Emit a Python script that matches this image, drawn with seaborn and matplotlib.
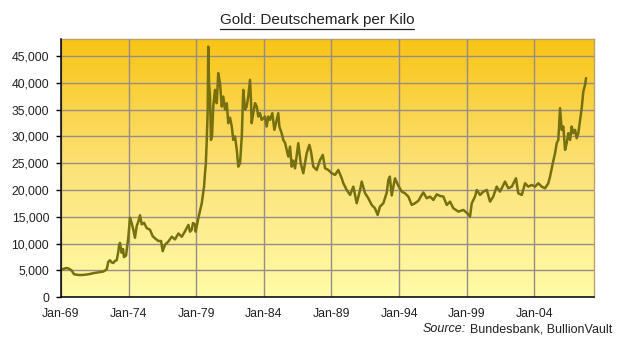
import numpy as np
import pandas as pd
import matplotlib
matplotlib.use("Agg")
import matplotlib.pyplot as plt
from matplotlib.colors import LinearSegmentedColormap
from matplotlib.lines import Line2D
import seaborn as sns

# ---- data (decimal year, DM per kilo) ----
years = [
    1969.00, 1969.17, 1969.37, 1969.54, 1969.79, 1969.96, 1970.28, 1970.55, 1970.90,
    1971.14, 1971.39, 1971.66, 1971.88, 1972.13, 1972.38, 1972.50, 1972.62, 1972.75,
    1972.87, 1972.99, 1973.12, 1973.24, 1973.29, 1973.36, 1973.49, 1973.59, 1973.66,
    1973.81, 1973.98, 1974.10, 1974.23, 1974.35, 1974.47, 1974.60, 1974.72, 1974.84,
    1974.97, 1975.14, 1975.34, 1975.58, 1975.78, 1975.95, 1976.20, 1976.40, 1976.52,
    1976.69, 1976.94, 1977.19, 1977.43, 1977.68, 1977.93, 1978.17, 1978.42, 1978.54,
    1978.67, 1978.76, 1978.91, 1978.96, 1979.16, 1979.41, 1979.58, 1979.65, 1979.71,
    1979.78, 1979.85, 1979.89, 1979.95, 1980.02, 1980.09, 1980.17, 1980.26, 1980.39,
    1980.52, 1980.63, 1980.76, 1980.89, 1981.00, 1981.13, 1981.26, 1981.37, 1981.50,
    1981.63, 1981.74, 1981.87, 1982.00, 1982.11, 1982.24, 1982.37, 1982.48, 1982.61,
    1982.73, 1982.85, 1982.98, 1983.05, 1983.10, 1983.22, 1983.35, 1983.48, 1983.59,
    1983.72, 1983.84, 1984.09, 1984.21, 1984.33, 1984.46, 1984.63, 1984.78, 1984.95,
    1985.07, 1985.15, 1985.32, 1985.44, 1985.57, 1985.69, 1985.81, 1985.94, 1986.06,
    1986.18, 1986.31, 1986.55, 1986.73, 1986.92, 1987.17, 1987.37, 1987.49, 1987.66,
    1987.91, 1988.16, 1988.36, 1988.53, 1988.77, 1989.02, 1989.27, 1989.51, 1989.76,
    1989.88, 1990.13, 1990.38, 1990.62, 1990.87, 1991.12, 1991.24, 1991.49, 1991.73,
    1991.98, 1992.22, 1992.42, 1992.59, 1992.84, 1993.09, 1993.21, 1993.32, 1993.46,
    1993.70, 1993.95, 1994.20, 1994.44, 1994.69, 1994.94, 1995.18, 1995.43, 1995.68,
    1995.80, 1996.05, 1996.29, 1996.54, 1996.79, 1997.03, 1997.28, 1997.53, 1997.77,
    1998.02, 1998.39, 1998.76, 1999.05, 1999.25, 1999.38, 1999.62, 1999.75, 1999.99,
    2000.24, 2000.49, 2000.73, 2000.97, 2001.22, 2001.47, 2001.84, 2002.08, 2002.34,
    2002.65, 2002.82, 2003.08, 2003.32, 2003.56, 2003.81, 2004.06, 2004.30, 2004.55,
    2004.80, 2005.04, 2005.17, 2005.37, 2005.54, 2005.66, 2005.78, 2005.91, 2006.03,
    2006.15, 2006.28, 2006.40, 2006.52, 2006.65, 2006.77, 2006.89, 2007.02, 2007.14,
    2007.26, 2007.39, 2007.51, 2007.63, 2007.76, 2007.83,
]
dm_per_kilo = [
    5250, 5270, 5450, 5400, 5000, 4300, 4170, 4150, 4250,
    4350, 4500, 4600, 4700, 4800, 5200, 6640, 6900, 6500,
    6400, 6800, 6900, 8500, 9600, 10150, 8300, 9000, 7500,
    7800, 11200, 14850, 13800, 12600, 11100, 13300, 14100, 15300,
    13600, 13900, 12900, 12600, 11400, 11000, 10500, 10500, 8600,
    9800, 10400, 11300, 10800, 11900, 11300, 12300, 13500, 12240,
    12600, 13860, 13600, 12240, 14800, 17540, 20640, 23140, 24800,
    29350, 35000, 46760, 39930, 37430, 29350, 30000, 35570, 38680,
    36200, 41800, 39930, 35570, 37430, 35000, 36200, 32470, 33500,
    31850, 29350, 30000, 27490, 24370, 24990, 29970, 38680, 35000,
    35570, 37430, 40550, 36800, 32470, 34330, 36200, 35570, 33710,
    34330, 33090, 33710, 31850, 33710, 33090, 34330, 31230, 33090,
    34330, 31850, 30600, 29350, 28800, 27500, 26240, 28100, 24370,
    25500, 24060, 28740, 25000, 23140, 26870, 28420, 27180, 24370,
    23750, 25620, 26560, 24060, 23750, 23140, 22830, 23750, 22200,
    21270, 20020, 19090, 20640, 17540, 20020, 21580, 19400, 18470,
    17220, 16600, 15360, 16910, 17540, 19500, 21890, 22510, 19000,
    22200, 20800, 19710, 19400, 18780, 17220, 17540, 18000, 19090,
    19550, 18470, 18780, 18160, 19200, 18900, 18780, 17220, 17840,
    16600, 15980, 16290, 15670, 15040, 17540, 18780, 20020, 19090,
    19710, 20020, 17840, 18780, 20640, 19710, 21580, 20330, 20640,
    22200, 19400, 19090, 21270, 20640, 20950, 20640, 21270, 20640,
    20330, 21270, 22510, 25000, 26870, 28740, 29350, 35270, 31230,
    31850, 27490, 28740, 30600, 29350, 31850, 30600, 31230, 29660,
    30600, 33090, 35270, 38370, 39620, 40870,
]
tick_years = [1969, 1974, 1979, 1984, 1989, 1994, 1999, 2004]
tick_labels = ["Jan-69", "Jan-74", "Jan-79", "Jan-84", "Jan-89", "Jan-94", "Jan-99", "Jan-04"]
y_ticks = list(range(0, 45001, 5000))

title = "Gold: Deutschemark per Kilo"
source_label = "Source:"
source_text = "Bundesbank, BullionVault"

df = pd.DataFrame({"year": years, "value": dm_per_kilo})

sns.set_theme(style="white")
plt.rcParams["font.family"] = ["Liberation Sans", "DejaVu Sans"]

fig = plt.figure(figsize=(6.2, 3.52), dpi=100)
fig.patch.set_facecolor("white")
ax = fig.add_axes([61 / 620, 1 - 297.3 / 352, (594 - 61) / 620, (297.3 - 39) / 352])

# gradient background
cmap = LinearSegmentedColormap.from_list("gold", ["#FFFBA8", "#FCE277", "#F9C414"])
grad = np.linspace(0, 1, 256).reshape(-1, 1)
ax.imshow(grad, cmap=cmap, origin="lower", extent=[0, 1, 0, 1], aspect="auto",
          transform=ax.transAxes, zorder=0)

sns.lineplot(data=df, x="year", y="value", ax=ax, color="#76700f", linewidth=1.8,
             zorder=3)

ax.set_xlim(1969.0, 2008.42)
ax.set_ylim(0, 48170)
ax.set_xticks(tick_years)
ax.set_xticklabels(tick_labels)
ax.set_yticks(y_ticks)
ax.set_yticklabels([f"{v:,}" for v in y_ticks])
ax.set_xlabel("")
ax.set_ylabel("")

ax.grid(True, color="#978c88", linewidth=1.0, zorder=1)
ax.set_axisbelow(False)
for gl in ax.get_xgridlines() + ax.get_ygridlines():
    gl.set_zorder(1)

ax.tick_params(axis="y", which="both", left=True, length=3.5, width=1, color="black",
               pad=5, labelsize=8.8, labelcolor="#222222")
ax.tick_params(axis="x", which="both", bottom=False, length=0, pad=8,
               labelsize=8.8, labelcolor="#222222")

for side in ["left", "bottom"]:
    ax.spines[side].set_color("black")
    ax.spines[side].set_linewidth(1.1)
    ax.spines[side].set_zorder(4)
for side in ["top", "right"]:
    ax.spines[side].set_color("#b9a36a")
    ax.spines[side].set_linewidth(1.0)

# title with underline
t = fig.text(317 / 620, 1 - 20 / 352, title, ha="center", va="center",
             fontsize=11, color="#222222")
fig.canvas.draw()
r = fig.canvas.get_renderer()
bb = t.get_window_extent(renderer=r)
uy = bb.y0 - 1.5
fig.add_artist(Line2D([bb.x0 / 620, bb.x1 / 620], [uy / 352, uy / 352],
                      transform=fig.transFigure, color="#222222", linewidth=0.9))

# source line
s2 = fig.text(612 / 620, 1 - 329 / 352, source_text, ha="right", va="center",
              fontsize=9, color="#222222")
fig.canvas.draw()
bb2 = s2.get_window_extent(renderer=r)
fig.text((bb2.x0 - 4) / 620, 1 - 329 / 352, source_label, ha="right", va="center",
         fontsize=9, style="italic", color="#222222")

fig.savefig("out.png", dpi=100, facecolor="white")
